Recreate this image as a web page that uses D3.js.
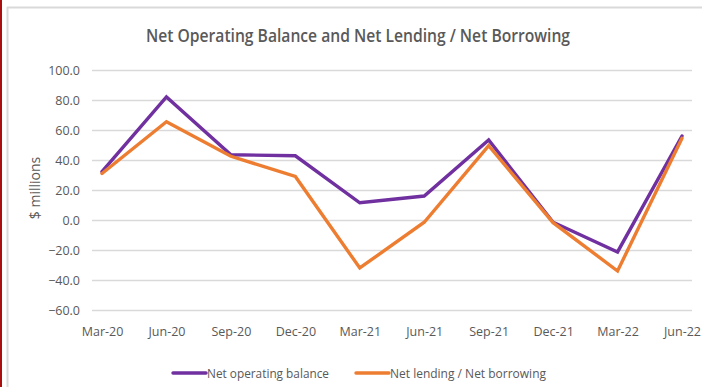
<!DOCTYPE html>
<html>
<head>
<meta charset="utf-8">
<script src="https://cdn.jsdelivr.net/npm/d3@7"></script>
<style>
  html, body { margin: 0; padding: 0; background: #fff; }
  svg { display: block; font-family: "Open Sans", "Liberation Sans", sans-serif; }
</style>
</head>
<body>
<svg id="chart" width="702" height="387"></svg>
<script>
// Quarterly categories
const quarters = ["Mar-20", "Jun-20", "Sep-20", "Dec-20", "Mar-21", "Jun-21", "Sep-21", "Dec-21", "Mar-22", "Jun-22"];
// $ millions
const netOperatingBalance = [32.2, 82.0, 43.5, 42.8, 11.5, 16.0, 53.3, -1.5, -21.3, 56.0];
const netLending = [31.0, 65.5, 42.5, 29.0, -32.0, -1.5, 49.5, -1.8, -34.0, 54.5];
const yTicks = [100, 80, 60, 40, 20, 0, -20, -40, -60];
const seriesNames = ["Net operating balance", "Net lending / Net borrowing"];
const seriesColors = ["#7030A0", "#ED7D31"];

const svg = d3.select("#chart");
const W = 702, H = 387;

// outer frame
svg.append("rect").attr("x", 0).attr("y", 0).attr("width", 2).attr("height", H).attr("fill", "#a80f0f");
svg.append("line").attr("x1", 7).attr("x2", W).attr("y1", 7.5).attr("y2", 7.5).attr("stroke", "#d9d9d9").attr("stroke-width", 2);
svg.append("line").attr("x1", 7.5).attr("x2", 7.5).attr("y1", 7).attr("y2", H).attr("stroke", "#d9d9d9").attr("stroke-width", 2);

// title
svg.append("text")
  .attr("x", 358).attr("y", 42)
  .attr("text-anchor", "middle")
  .attr("fill", "#595959")
  .attr("font-size", 18)
  .attr("font-weight", 600)
  .attr("textLength", 424)
  .attr("lengthAdjust", "spacingAndGlyphs")
  .text("Net Operating Balance and Net Lending / Net Borrowing");

const y = d3.scaleLinear().domain([-60, 100]).range([310, 70]);
const x = d3.scalePoint().domain(quarters).range([102, 682]);
const gridX0 = 92, gridX1 = 692;

// gridlines
svg.append("g").selectAll("line").data(yTicks).join("line")
  .attr("x1", gridX0).attr("x2", gridX1)
  .attr("y1", d => Math.round(y(d)) + 0.5).attr("y2", d => Math.round(y(d)) + 0.5)
  .attr("stroke", "#d9d9d9").attr("stroke-width", 1.5);

// y axis labels
const yAxis = d3.axisLeft(y).tickValues(yTicks).tickFormat(d3.format(".1f")).tickSize(0).tickPadding(0);
const gy = svg.append("g").attr("transform", "translate(80,0)").call(yAxis);
gy.select(".domain").remove();
gy.selectAll("text").attr("fill", "#595959").attr("font-size", 12.5).attr("font-family", "'Open Sans', sans-serif");

// x axis labels
const xAxis = d3.axisBottom(x).tickSize(0).tickPadding(0);
const gx = svg.append("g").attr("transform", "translate(0,327)").call(xAxis);
gx.select(".domain").remove();
gx.selectAll("text").attr("fill", "#595959").attr("font-size", 12.5).attr("font-family", "'Open Sans', sans-serif");

// y axis title
svg.append("text")
  .attr("transform", "translate(40,188) rotate(-90)")
  .attr("text-anchor", "middle")
  .attr("fill", "#595959")
  .attr("font-size", 14)
  .text("$ millions");

// series lines
const line = d3.line().x((d, i) => x(quarters[i])).y(d => y(d));
[netOperatingBalance, netLending].forEach((vals, k) => {
  svg.append("path")
    .datum(vals)
    .attr("d", line)
    .attr("fill", "none")
    .attr("stroke", seriesColors[k])
    .attr("stroke-width", 3.4)
    .attr("stroke-linejoin", "miter")
    .attr("stroke-linecap", "round");
});

// legend
const legendX = [173, 356];
const legendW = [122, 156];
const legendY = 373;
seriesNames.forEach((name, k) => {
  svg.append("line")
    .attr("x1", legendX[k]).attr("x2", legendX[k] + 33)
    .attr("y1", legendY).attr("y2", legendY)
    .attr("stroke", seriesColors[k]).attr("stroke-width", 3.4).attr("stroke-linecap", "round");
  svg.append("text")
    .attr("x", legendX[k] + 34).attr("y", legendY)
    .attr("dy", "0.35em")
    .attr("fill", "#595959")
    .attr("font-size", 13)
    .attr("textLength", legendW[k])
    .attr("lengthAdjust", "spacingAndGlyphs")
    .text(name);
});
</script>
</body>
</html>
